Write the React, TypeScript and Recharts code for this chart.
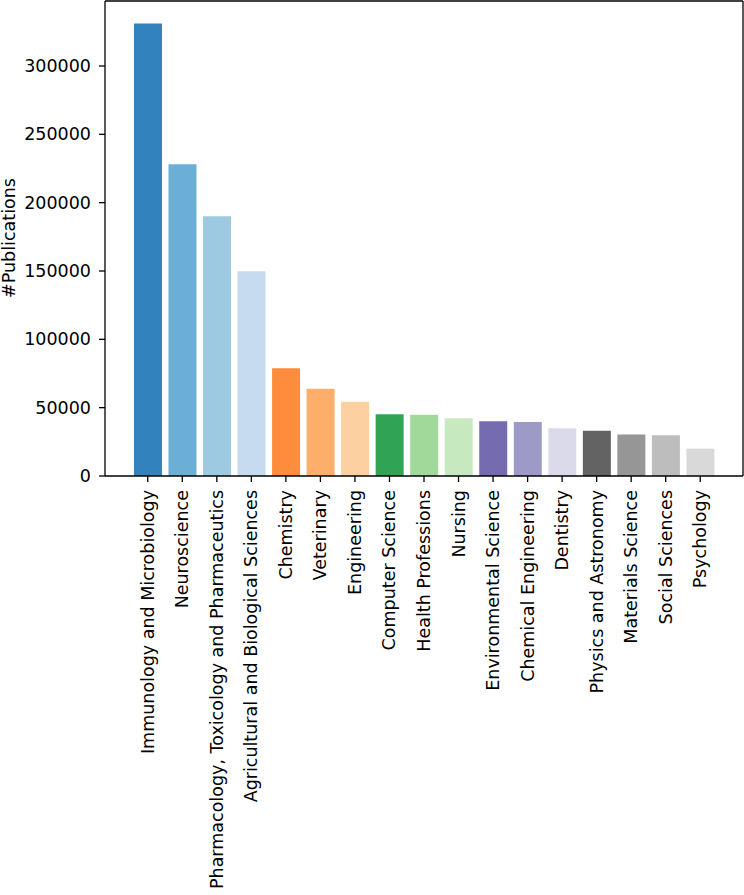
import React from 'react';
import { BarChart, Bar, XAxis, YAxis, Cell, ReferenceLine } from 'recharts';

const categories = [
  'Immunology and Microbiology',
  'Neuroscience',
  'Pharmacology, Toxicology and Pharmaceutics',
  'Agricultural and Biological Sciences',
  'Chemistry',
  'Veterinary',
  'Engineering',
  'Computer Science',
  'Health Professions',
  'Nursing',
  'Environmental Science',
  'Chemical Engineering',
  'Dentistry',
  'Physics and Astronomy',
  'Materials Science',
  'Social Sciences',
  'Psychology',
];

const publications = [
  331000, 228100, 190000, 149800, 78800, 63900, 54400, 45100, 44900, 42200,
  40000, 39500, 34900, 33200, 30300, 29800, 20000,
];

const colors = [
  '#3182bd', '#6baed6', '#9ecae1', '#c6dbef',
  '#fd8d3c', '#fdae6b', '#fdd0a2',
  '#31a354', '#a1d99b', '#c7e9c0',
  '#756bb1', '#9e9ac8', '#dadaeb',
  '#636363', '#969696', '#bdbdbd', '#d9d9d9',
];

const yTicks = [0, 50000, 100000, 150000, 200000, 250000, 300000];
const Y_MAX = 347550;

const data = categories.map((name, i) => ({ name, value: publications[i] }));

const FONT = 'DejaVu Sans, sans-serif';
const FS = 17.5;

const XTick = (props: any) => {
  const { x, y, payload } = props;
  return (
    <text
      x={x}
      y={y}
      transform={`rotate(-90, ${x}, ${y})`}
      textAnchor="end"
      dominantBaseline="central"
      fontSize={FS}
      fontFamily={FONT}
      fill="#000"
    >
      {payload.value}
    </text>
  );
};

const YTick = (props: any) => {
  const { x, y, payload } = props;
  return (
    <text
      x={x}
      y={y}
      textAnchor="end"
      dominantBaseline="central"
      fontSize={FS}
      fontFamily={FONT}
      fill="#000"
    >
      {payload.value}
    </text>
  );
};

const YLabel = () => (
  <text
    x={9}
    y={238}
    transform="rotate(-90, 9, 238)"
    textAnchor="middle"
    dominantBaseline="central"
    fontSize={FS}
    fontFamily={FONT}
    fill="#000"
  >
    #Publications
  </text>
);

export default function App() {
  return (
    <div style={{ position: 'absolute', left: 0, top: 0, background: '#fff' }}>
      <BarChart
        width={744}
        height={895}
        data={data}
        margin={{ top: 1, right: 0, bottom: 0, left: 0 }}
        barCategoryGap="10%"
      >
        <XAxis
          dataKey="name"
          type="category"
          interval={0}
          height={419}
          tick={<XTick />}
          tickSize={6}
          tickMargin={8}
          padding={{ left: 25.5, right: 25.5 }}
          axisLine={{ stroke: '#000', strokeWidth: 1.3 }}
          tickLine={{ stroke: '#000', strokeWidth: 1.3 }}
        />
        <YAxis
          type="number"
          domain={[0, Y_MAX]}
          ticks={yTicks}
          width={105}
          tickSize={6}
          tickMargin={8}
          interval={0}
          tick={<YTick />}
          axisLine={{ stroke: '#000', strokeWidth: 1.3 }}
          tickLine={{ stroke: '#000', strokeWidth: 1.3 }}
          label={{ content: () => <YLabel /> }}
        />
        <YAxis
          yAxisId="right"
          orientation="right"
          width={1}
          tick={false}
          tickLine={false}
          axisLine={{ stroke: '#000', strokeWidth: 1.3 }}
        />
        <ReferenceLine y={Y_MAX} stroke="#000" strokeWidth={1.3} ifOverflow="extendDomain" />
        <Bar dataKey="value" isAnimationActive={false}>
          {data.map((d, i) => (
            <Cell key={d.name} fill={colors[i]} />
          ))}
        </Bar>
      </BarChart>
    </div>
  );
}
